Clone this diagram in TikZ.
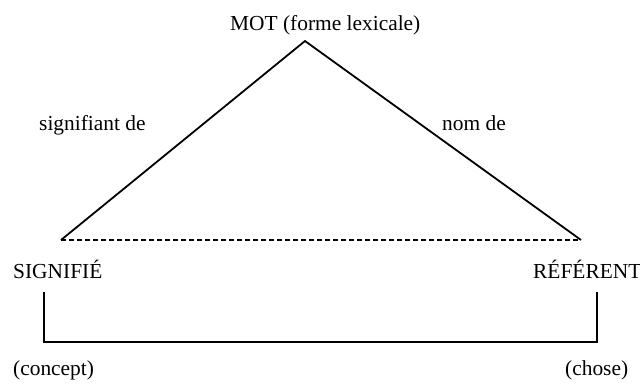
\documentclass[tikz,border=0pt]{standalone}
\usepackage{fontspec}
\setmainfont{Liberation Serif}
\begin{document}
\begin{tikzpicture}[x=1bp,y=-1bp,
  lbl/.style={anchor=base west,inner sep=0pt,font=\fontsize{21.4bp}{24bp}\selectfont},
  solidline/.style={line width=1.8bp,line join=miter},
  dashline/.style={line width=1.5bp,dash pattern=on 5bp off 3bp}]
\useasboundingbox (0,0) rectangle (640,383);
\node[lbl] (mot) at (230,30) {MOT (forme lexicale)};
\node[lbl] (sig) at (39,130) {signifiant de};
\node[lbl] (nom) at (442,130) {nom de};
\node[lbl] (signifie) at (13,278) {SIGNIFIÉ};
\node[lbl] (referent) at (533,278) {RÉFÉRENT};
\node[lbl] (concept) at (13,375) {(concept)};
\node[lbl] (chose) at (565,375) {(chose)};
\coordinate (apex) at (305,41);
\coordinate (sl) at (61,240);
\coordinate (sr) at (581,240);
\coordinate (blt) at (44,292);
\coordinate (blb) at (44,342);
\coordinate (brb) at (597,342);
\coordinate (brt) at (597,292);
\draw[solidline] (sl) -- (apex) -- (sr);
\draw[dashline] (sl) -- (sr);
\draw[solidline] (blt) -- (blb) -- (brb) -- (brt);
\end{tikzpicture}
\end{document}
